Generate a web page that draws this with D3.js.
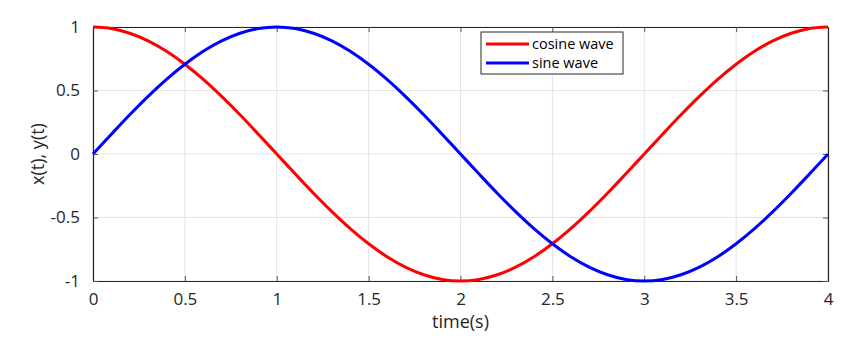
<!DOCTYPE html>
<html>
<head>
<meta charset="utf-8">
<script src="https://cdn.jsdelivr.net/npm/d3@7"></script>
<style>
  body { margin: 0; background: #fff; }
  svg { font-family: "Open Sans", "Noto Sans", sans-serif; }
</style>
</head>
<body>
<svg width="854" height="353"></svg>
<script>
const time = [0,0.1,0.2,0.3,0.4,0.5,0.6,0.7,0.8,0.9,1,1.1,1.2,1.3,1.4,1.5,1.6,1.7,1.8,1.9,2,
  2.1,2.2,2.3,2.4,2.5,2.6,2.7,2.8,2.9,3,3.1,3.2,3.3,3.4,3.5,3.6,3.7,3.8,3.9,4];
const cosine = [1,0.988,0.951,0.891,0.809,0.707,0.588,0.454,0.309,0.156,0,
  -0.156,-0.309,-0.454,-0.588,-0.707,-0.809,-0.891,-0.951,-0.988,-1,
  -0.988,-0.951,-0.891,-0.809,-0.707,-0.588,-0.454,-0.309,-0.156,0,
  0.156,0.309,0.454,0.588,0.707,0.809,0.891,0.951,0.988,1];
const sine = [0,0.156,0.309,0.454,0.588,0.707,0.809,0.891,0.951,0.988,1,
  0.988,0.951,0.891,0.809,0.707,0.588,0.454,0.309,0.156,0,
  -0.156,-0.309,-0.454,-0.588,-0.707,-0.809,-0.891,-0.951,-0.988,-1,
  -0.988,-0.951,-0.891,-0.809,-0.707,-0.588,-0.454,-0.309,-0.156,0];
const xTicks = [0,0.5,1,1.5,2,2.5,3,3.5,4];
const yTicks = [-1,-0.5,0,0.5,1];
const seriesNames = ['cosine wave', 'sine wave'];
const seriesColors = ['#ff0000', '#0000ff'];

const svg = d3.select('svg');
const margin = {top: 27, right: 26, bottom: 72, left: 93};
const innerWidth = 854 - margin.left - margin.right;
const innerHeight = 353 - margin.top - margin.bottom;

const xScale = d3.scaleLinear().domain([0, 4]).range([0, innerWidth]);
const yScale = d3.scaleLinear().domain([-1, 1]).range([innerHeight, 0]);

const g = svg.append('g').attr('transform', `translate(${margin.left},${margin.top})`);

// grid
g.append('g').selectAll('line').data(xTicks).join('line')
  .attr('x1', d => xScale(d)).attr('x2', d => xScale(d))
  .attr('y1', 0).attr('y2', innerHeight)
  .attr('stroke', '#e3e3e3');
g.append('g').selectAll('line').data(yTicks).join('line')
  .attr('y1', d => yScale(d)).attr('y2', d => yScale(d))
  .attr('x1', 0).attr('x2', innerWidth)
  .attr('stroke', '#e3e3e3');

const fmt = d => String(d);

// axes with inward ticks, MATLAB style box
const xAxisG = g.append('g').attr('transform', `translate(0,${innerHeight})`)
  .call(d3.axisBottom(xScale).tickValues(xTicks).tickFormat(fmt).tickSizeInner(-5).tickSizeOuter(0).tickPadding(12));
const xTopG = g.append('g')
  .call(d3.axisTop(xScale).tickValues(xTicks).tickSizeInner(-5).tickSizeOuter(0));
const yAxisG = g.append('g')
  .call(d3.axisLeft(yScale).tickValues(yTicks).tickFormat(fmt).tickSizeInner(-5).tickSizeOuter(0).tickPadding(13));
const yRightG = g.append('g').attr('transform', `translate(${innerWidth},0)`)
  .call(d3.axisRight(yScale).tickValues(yTicks).tickSizeInner(-5).tickSizeOuter(0));

// top and right axes only carry ticks
xTopG.selectAll('.tick text').remove();
yRightG.selectAll('.tick text').remove();

[xAxisG, xTopG, yAxisG, yRightG].forEach(a => {
  a.attr('font-family', null).attr('font-size', 17);
  a.select('.domain').attr('stroke', '#262626').attr('stroke-width', 1.2);
  a.selectAll('.tick line').attr('stroke', '#555');
  a.selectAll('.tick text').attr('fill', '#262626');
});

// lines
const line = d3.line()
  .x((d, i) => xScale(time[i]))
  .y(d => yScale(d))
  .curve(d3.curveCatmullRom);

[cosine, sine].forEach((s, k) => {
  g.append('path')
    .attr('d', line(s))
    .attr('fill', 'none')
    .attr('stroke', seriesColors[k])
    .attr('stroke-width', 3);
});

// axis labels
g.append('text')
  .attr('x', innerWidth / 2).attr('y', innerHeight + 47)
  .attr('font-size', 18).attr('fill', '#262626')
  .attr('text-anchor', 'middle').text('time(s)');
g.append('text')
  .attr('transform', `translate(-49,${innerHeight / 2}) rotate(-90)`)
  .attr('font-size', 18).attr('fill', '#262626')
  .attr('text-anchor', 'middle').text('x(t), y(t)');

// legend
const legend = svg.append('g').attr('transform', 'translate(481,32)');
legend.append('rect').attr('width', 142).attr('height', 42)
  .attr('fill', '#fff').attr('stroke', '#262626').attr('stroke-width', 1);
seriesNames.forEach((name, k) => {
  const y = 12 + k * 19;
  legend.append('line').attr('x1', 5).attr('x2', 48).attr('y1', y).attr('y2', y)
    .attr('stroke', seriesColors[k]).attr('stroke-width', 3);
  legend.append('text').attr('x', 51).attr('y', y).attr('dy', '0.35em')
    .attr('font-size', 14.5).attr('fill', '#000').text(name);
});
</script>
</body>
</html>
